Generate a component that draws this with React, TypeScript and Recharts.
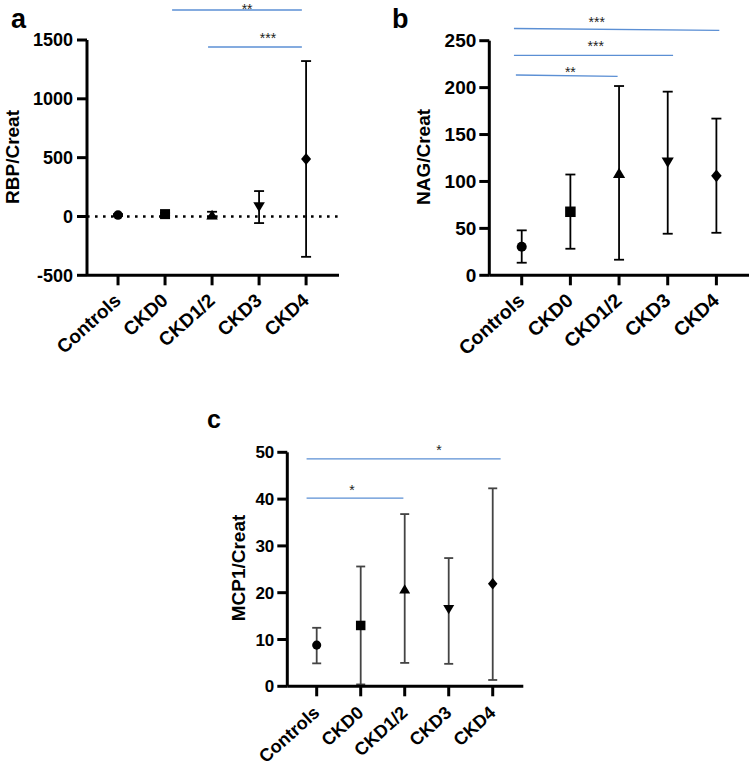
import React from 'react';
import { ScatterChart, Scatter, XAxis, YAxis, ErrorBar, ReferenceLine, ReferenceDot } from 'recharts';

const FONT = '"Liberation Sans", Arial, Helvetica, sans-serif';

// ---------- data ----------
const CATEGORIES = ['Controls', 'CKD0', 'CKD1/2', 'CKD3', 'CKD4'];

const RBP_MEAN = [12, 20, 10, 85, 488];
const RBP_LOW = [4, 10, -15, -56, -343];
const RBP_HIGH = [20, 30, 40, 216, 1321];
const RBP_TICKS = [-500, 0, 500, 1000, 1500];

const NAG_MEAN = [30.4, 67.7, 108.5, 120.8, 106];
const NAG_LOW = [13.4, 28.3, 16.6, 44.3, 45.3];
const NAG_HIGH = [47.9, 107.4, 201.7, 195.7, 167];
const NAG_TICKS = [0, 50, 100, 150, 200, 250];

const MCP_MEAN = [8.8, 13.0, 20.7, 16.5, 21.9];
const MCP_LOW = [4.9, 0.4, 5.0, 4.8, 1.35];
const MCP_HIGH = [12.5, 25.6, 36.8, 27.4, 42.3];
const MCP_TICKS = [0, 10, 20, 30, 40, 50];

// significance brackets (data units)
const RBP_SIG = [
  { x1: 1.15, x2: 3.91, y1: 1755, y2: 1755, label: '**', lx: 2.745, ly: 1788 },
  { x1: 1.915, x2: 3.91, y1: 1440, y2: 1440, label: '***', lx: 3.19, ly: 1536 },
];
const NAG_SIG = [
  { x1: -0.16, x2: 4.06, y1: 263, y2: 261, label: '***', lx: 1.54, ly: 272.7 },
  { x1: -0.16, x2: 3.11, y1: 234.4, y2: 234.4, label: '***', lx: 1.52, ly: 246.8 },
  { x1: -0.12, x2: 1.97, y1: 213.4, y2: 212, label: '**', lx: 1.0, ly: 219.5 },
];
const MCP_SIG = [
  { x1: -0.23, x2: 4.18, y1: 48.6, y2: 48.6, label: '*', lx: 2.78, ly: 51.0 },
  { x1: -0.23, x2: 1.97, y1: 40.2, y2: 40.2, label: '*', lx: 0.8, ly: 42.5 },
];

// ---------- styling ----------
const MARKER_SHAPES = ['circle', 'square', 'up', 'down', 'diamond'];
const SIG_COLOR = '#5b8fd4';

const toPoints = (mean: number[], low: number[], high: number[]) =>
  mean.map((m, i) => ({ x: i, y: m, err: [m - low[i], high[i] - m] }));

const makeMarker = (s: number) => (props: any) => {
  const { cx, cy, payload } = props;
  if (cx == null || cy == null) return <g />;
  const kind = MARKER_SHAPES[payload.x];
  const fill = '#000';
  if (kind === 'circle') return <circle cx={cx} cy={cy} r={4.8 * s} fill={fill} />;
  if (kind === 'square')
    return <rect x={cx - 5 * s} y={cy - 5 * s} width={10 * s} height={10 * s} fill={fill} />;
  if (kind === 'up')
    return (
      <polygon
        points={`${cx},${cy - 5.5 * s} ${cx - 5.8 * s},${cy + 4.2 * s} ${cx + 5.8 * s},${cy + 4.2 * s}`}
        fill={fill}
      />
    );
  if (kind === 'down')
    return (
      <polygon
        points={`${cx},${cy + 5.5 * s} ${cx - 5.8 * s},${cy - 4.2 * s} ${cx + 5.8 * s},${cy - 4.2 * s}`}
        fill={fill}
      />
    );
  return (
    <polygon
      points={`${cx},${cy - 6 * s} ${cx + 5 * s},${cy} ${cx},${cy + 6 * s} ${cx - 5 * s},${cy}`}
      fill={fill}
    />
  );
};

const AngledTick = (props: any) => {
  const { x, y, payload, fs, ox, oy } = props;
  return (
    <g transform={`translate(${x + ox},${y + oy})`}>
      <text
        textAnchor="end"
        transform="rotate(-42)"
        fontSize={fs}
        fontWeight={700}
        fontFamily={FONT}
        fill="#000"
      >
        {CATEGORIES[Math.round(payload.value)]}
      </text>
    </g>
  );
};

const starShape = (label: string) => (p: any) => (
  <text
    x={p.cx}
    y={p.cy + 7.5}
    textAnchor="middle"
    fontSize={14}
    fontFamily={FONT}
    fill="#222"
  >
    {label}
  </text>
);

type PanelProps = {
  left: number;
  top: number;
  width: number;
  height: number;
  mTop: number;
  mRight: number;
  xHeight: number;
  yWidth: number;
  xDomain: [number, number];
  yDomain: [number, number];
  yTicks: number[];
  data: { x: number; y: number; err: number[] }[];
  sig: { x1: number; x2: number; y1: number; y2: number; label: string; lx: number; ly: number }[];
  tickFs: number;
  xFs: number;
  errColor: string;
  capW: number;
  markerScale: number;
  zeroLine?: boolean;
  tickMargin: number;
  ox: number;
  oy: number;
};

const Panel = (p: PanelProps) => (
  <div style={{ position: 'absolute', left: p.left, top: p.top, width: p.width, height: p.height }}>
    <ScatterChart
      width={p.width}
      height={p.height}
      margin={{ top: p.mTop, right: p.mRight, bottom: 0, left: 0 }}
    >
      <XAxis
        type="number"
        dataKey="x"
        domain={p.xDomain}
        ticks={[0, 1, 2, 3, 4]}
        allowDataOverflow
        interval={0}
        axisLine={{ stroke: '#000', strokeWidth: 3 }}
        tickLine={{ stroke: '#000', strokeWidth: 3 }}
        tickSize={10}
        height={p.xHeight}
        tick={(tp: any) => <AngledTick {...tp} fs={p.xFs} ox={p.ox} oy={p.oy} />}
      />
      <YAxis
        type="number"
        dataKey="y"
        domain={p.yDomain}
        ticks={p.yTicks}
        allowDataOverflow
        interval={0}
        width={p.yWidth}
        axisLine={{ stroke: '#000', strokeWidth: 3 }}
        tickLine={{ stroke: '#000', strokeWidth: 3 }}
        tickSize={10}
        tickMargin={p.tickMargin}
        tick={{ fontSize: p.tickFs, fontWeight: 700, fill: '#000', fontFamily: FONT }}
      />
      {p.zeroLine && (
        <ReferenceLine
          y={0}
          stroke="#000"
          strokeWidth={2.6}
          strokeDasharray="2.6 5.4"
          ifOverflow="visible"
        />
      )}
      {p.sig.map((s, i) => (
        <ReferenceLine
          key={'l' + i}
          segment={[
            { x: s.x1, y: s.y1 },
            { x: s.x2, y: s.y2 },
          ]}
          stroke={SIG_COLOR}
          strokeWidth={1.4}
          ifOverflow="visible"
        />
      ))}
      {p.sig.map((s, i) => (
        <ReferenceDot
          key={'d' + i}
          x={s.lx}
          y={s.ly}
          r={0}
          ifOverflow="visible"
          shape={starShape(s.label)}
        />
      ))}
      <Scatter data={p.data} dataKey="y" isAnimationActive={false} shape={makeMarker(p.markerScale)}>
        <ErrorBar
          dataKey="err"
          direction="y"
          width={p.capW}
          stroke={p.errColor}
          strokeWidth={1.8}
          isAnimationActive={false}
        />
      </Scatter>
    </ScatterChart>
  </div>
);

export default function App() {
  return (
    <div
      style={{
        position: 'absolute',
        left: 0,
        top: 0,
        width: 750,
        height: 770,
        background: '#fff',
        overflow: 'hidden',
      }}
    >
      <Panel
        left={0}
        top={0}
        width={370}
        height={390}
        mTop={40}
        mRight={31}
        xHeight={114.7}
        yWidth={87}
        xDomain={[-0.66, 4.7]}
        yDomain={[-500, 1500]}
        yTicks={RBP_TICKS}
        data={toPoints(RBP_MEAN, RBP_LOW, RBP_HIGH)}
        sig={RBP_SIG}
        tickFs={18}
        xFs={19}
        errColor="#000"
        capW={5}
        markerScale={1}
        zeroLine
        tickMargin={4}
        ox={4}
        oy={15}
      />
      <Panel
        left={370}
        top={0}
        width={380}
        height={390}
        mTop={40.7}
        mRight={1}
        xHeight={114.7}
        yWidth={119.3}
        xDomain={[-0.666, 4.67]}
        yDomain={[0, 250]}
        yTicks={NAG_TICKS}
        data={toPoints(NAG_MEAN, NAG_LOW, NAG_HIGH)}
        sig={NAG_SIG}
        tickFs={19}
        xFs={19.5}
        errColor="#000"
        capW={5}
        markerScale={1.05}
        tickMargin={3}
        ox={4}
        oy={15}
      />
      <Panel
        left={180}
        top={400}
        width={400}
        height={370}
        mTop={52.3}
        mRight={56.7}
        xHeight={83.7}
        yWidth={107.3}
        xDomain={[-0.668, 4.695]}
        yDomain={[0, 50]}
        yTicks={MCP_TICKS}
        data={toPoints(MCP_MEAN, MCP_LOW, MCP_HIGH)}
        sig={MCP_SIG}
        tickFs={17}
        xFs={18}
        errColor="#444"
        capW={4.5}
        markerScale={0.95}
        tickMargin={3}
        ox={4}
        oy={16}
      />
      <svg
        width={750}
        height={770}
        style={{ position: 'absolute', left: 0, top: 0, pointerEvents: 'none' }}
      >
        <g fontFamily={FONT} fontWeight={700} fill="#000">
          <text x={11} y={28} fontSize={27}>a</text>
          <text x={392} y={28} fontSize={27}>b</text>
          <text x={207} y={428} fontSize={25}>c</text>
          <text transform="translate(12,157) rotate(-90)" textAnchor="middle" dominantBaseline="central" fontSize={19}>
            RBP/Creat
          </text>
          <text transform="translate(423,157) rotate(-90)" textAnchor="middle" dominantBaseline="central" fontSize={19}>
            NAG/Creat
          </text>
          <text transform="translate(238,568) rotate(-90)" textAnchor="middle" dominantBaseline="central" fontSize={19}>
            MCP1/Creat
          </text>
        </g>
      </svg>
    </div>
  );
}
